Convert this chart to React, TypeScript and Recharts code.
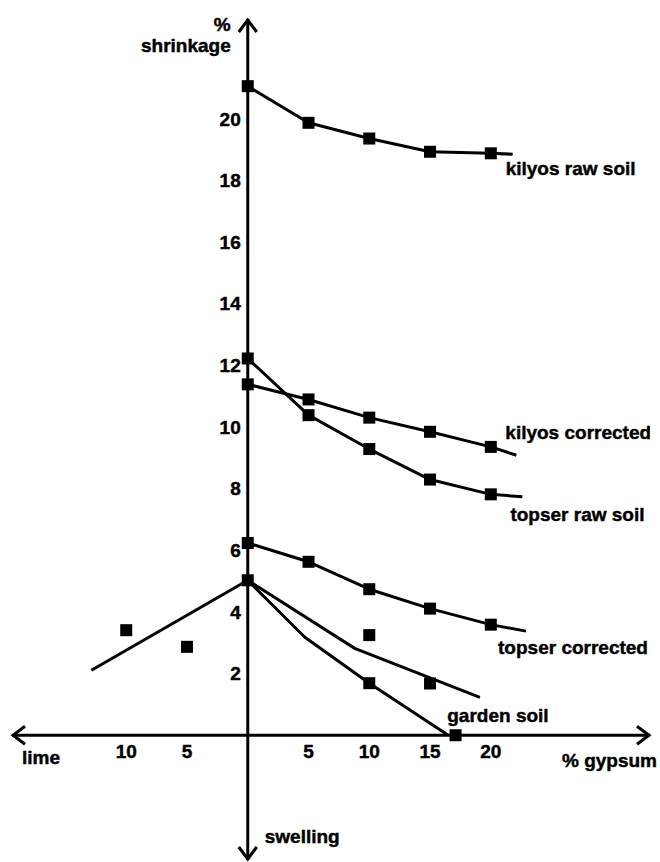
import React from "react";
import { ComposedChart, Line, Scatter, XAxis, YAxis, ReferenceLine } from "recharts";

const FONT = "'Liberation Sans', Arial, Helvetica, sans-serif";

// % gypsum added (measured samples)
const gypsum = [0, 5, 10, 15, 20];
const kilyosRaw = [21.07, 19.88, 19.37, 18.94, 18.89];
const kilyosCorrected = [11.39, 10.9, 10.31, 9.85, 9.36];
const topserRaw = [12.23, 10.39, 9.29, 8.3, 7.82];
const topserCorrected = [6.24, 5.63, 4.74, 4.11, 3.59];

// where each fitted curve stops, a bit past the last sample
const kilyosRawTail = [21.8, 18.86];
const kilyosCorrectedTail = [22.1, 9.09];
const topserRawTail = [22.6, 7.74];
const topserCorrectedTail = [22.9, 3.38];

// garden soil: lime on the left (negative x), gypsum on the right
const gardenX = [0, -10, -5, 10, 10, 15, 17.1];
const gardenY = [5.03, 3.41, 2.87, 3.25, 1.69, 1.68, 0];
const gardenLimeLine = [[0, 5.03], [-12.86, 2.11]];
const gardenUpperLine = [[0, 5.03], [8.8, 2.82], [19.1, 1.23]];
const gardenLowerLine = [[0, 5.03], [4.7, 3.18], [10, 1.69], [16.5, 0]];

const xTicks = [-10, -5, 5, 10, 15, 20];
const xTickLabels = ["10", "5", "5", "10", "15", "20"];
const yTicks = [2, 4, 6, 8, 10, 12, 14, 16, 18, 20];

const seriesNames = ["kilyos raw soil", "kilyos corrected", "topser raw soil", "topser corrected", "garden soil"];

// label offset from the end of each curve, in px
const labelOffset: Record<string, [number, number]> = {
  "kilyos raw soil": [-7, 14],
  "kilyos corrected": [-11, -23],
  "topser raw soil": [-12, 18],
  "topser corrected": [-28, 16],
  "garden soil": [-1, -20],
};

const pts = (xs: number[], ys: number[]) => xs.map((x, i) => ({ x, y: ys[i] }));
const pairs = (arr: number[][]) => arr.map(([x, y]) => ({ x, y }));
const curve = (ys: number[], tail: number[]) => [...pts(gypsum, ys), { x: tail[0], y: tail[1] }];

const curves = [
  { name: seriesNames[0], marks: pts(gypsum, kilyosRaw), line: curve(kilyosRaw, kilyosRawTail) },
  { name: seriesNames[1], marks: pts(gypsum, kilyosCorrected), line: curve(kilyosCorrected, kilyosCorrectedTail) },
  { name: seriesNames[2], marks: pts(gypsum, topserRaw), line: curve(topserRaw, topserRawTail) },
  { name: seriesNames[3], marks: pts(gypsum, topserCorrected), line: curve(topserCorrected, topserCorrectedTail) },
];

const lastOf = <T,>(a: T[]) => a[a.length - 1];

const notes = [
  ...curves.map((c) => ({ ...lastOf(c.line), label: c.name })),
  { ...lastOf(pairs(gardenLowerLine)), label: seriesNames[4] },
];

const xTickData = xTicks.map((x, i) => ({ x, y: 0, label: xTickLabels[i] }));
const yTickData = yTicks.map((y) => ({ x: 0, y, label: String(y) }));

const textStyle = {
  fontFamily: FONT,
  fontWeight: 700,
  fontSize: 19,
  fill: "#000",
  stroke: "#000",
  strokeWidth: 0.45,
};

const Square = (p: any) => (
  <rect x={p.cx - 6} y={p.cy - 6} width={12} height={12} fill="#000" />
);

const XTick = (p: any) => (
  <text x={p.cx} y={p.cy + 16} textAnchor="middle" dominantBaseline="central" {...textStyle}>
    {p.payload.label}
  </text>
);

const YTick = (p: any) => (
  <text x={p.cx - 7} y={p.cy} textAnchor="end" dominantBaseline="central" {...textStyle}>
    {p.payload.label}
  </text>
);

const Note = (p: any) => {
  const [dx, dy] = labelOffset[p.payload.label] || [0, 0];
  return (
    <text x={p.cx + dx} y={p.cy + dy} dominantBaseline="central" {...textStyle}>
      {p.payload.label}
    </text>
  );
};

const HArrowAxis = (p: any) => {
  const l = Math.min(p.x1, p.x2);
  const r = Math.max(p.x1, p.x2);
  const y = p.y1;
  return (
    <g>
      <line x1={l} y1={y} x2={r} y2={y} stroke="#000" strokeWidth={3} />
      <polyline points={`${l + 13},${y - 9} ${l + 1},${y} ${l + 13},${y + 9}`} fill="none" stroke="#000" strokeWidth={3} />
      <polyline points={`${r - 13},${y - 9} ${r - 1},${y} ${r - 13},${y + 9}`} fill="none" stroke="#000" strokeWidth={3} />
      <text x={l + 10} y={y + 22} dominantBaseline="central" {...textStyle}>lime</text>
      <text x={r - 88} y={y + 25} dominantBaseline="central" {...textStyle}>% gypsum</text>
    </g>
  );
};

const VArrowAxis = (p: any) => {
  const t = Math.min(p.y1, p.y2);
  const b = Math.max(p.y1, p.y2);
  const x = p.x1;
  return (
    <g>
      <line x1={x} y1={t} x2={x} y2={b} stroke="#000" strokeWidth={3} />
      <polyline points={`${x - 9},${t + 13} ${x},${t + 1} ${x + 9},${t + 13}`} fill="none" stroke="#000" strokeWidth={3} />
      <polyline points={`${x - 9},${b - 13} ${x},${b - 1} ${x + 9},${b - 13}`} fill="none" stroke="#000" strokeWidth={3} />
      <text x={x - 17} y={t + 5} textAnchor="end" dominantBaseline="central" {...textStyle}>%</text>
      <text x={x - 17} y={t + 26} textAnchor="end" dominantBaseline="central" {...textStyle}>shrinkage</text>
      <text x={x + 17} y={b - 24} dominantBaseline="central" {...textStyle}>swelling</text>
    </g>
  );
};

export default function App() {
  return (
    <div style={{ position: "absolute", left: 0, top: 0, background: "#fff" }}>
      <ComposedChart width={660} height={862} margin={{ top: 19, right: 10, bottom: 2, left: 12 }}>
        <XAxis type="number" dataKey="x" domain={[-19.4, 33.1]} allowDataOverflow hide />
        <YAxis type="number" dataKey="y" domain={[-4.05, 23.25]} allowDataOverflow hide />

        <ReferenceLine y={0} shape={HArrowAxis} />
        <ReferenceLine x={0} shape={VArrowAxis} />

        {curves.map((c) => (
          <Line
            key={c.name}
            data={c.line}
            dataKey="y"
            type="linear"
            stroke="#000"
            strokeWidth={3}
            strokeLinejoin="round"
            dot={false}
            activeDot={false}
            isAnimationActive={false}
          />
        ))}
        {[gardenLimeLine, gardenUpperLine, gardenLowerLine].map((l, i) => (
          <Line
            key={"garden" + i}
            data={pairs(l)}
            dataKey="y"
            type="linear"
            stroke="#000"
            strokeWidth={3}
            strokeLinejoin="round"
            dot={false}
            activeDot={false}
            isAnimationActive={false}
          />
        ))}

        {curves.map((c) => (
          <Scatter key={c.name + "-m"} data={c.marks} shape={Square} isAnimationActive={false} />
        ))}
        <Scatter data={pts(gardenX, gardenY)} shape={Square} isAnimationActive={false} />

        <Scatter data={xTickData} shape={XTick} isAnimationActive={false} />
        <Scatter data={yTickData} shape={YTick} isAnimationActive={false} />
        <Scatter data={notes} shape={Note} isAnimationActive={false} />
      </ComposedChart>
    </div>
  );
}
